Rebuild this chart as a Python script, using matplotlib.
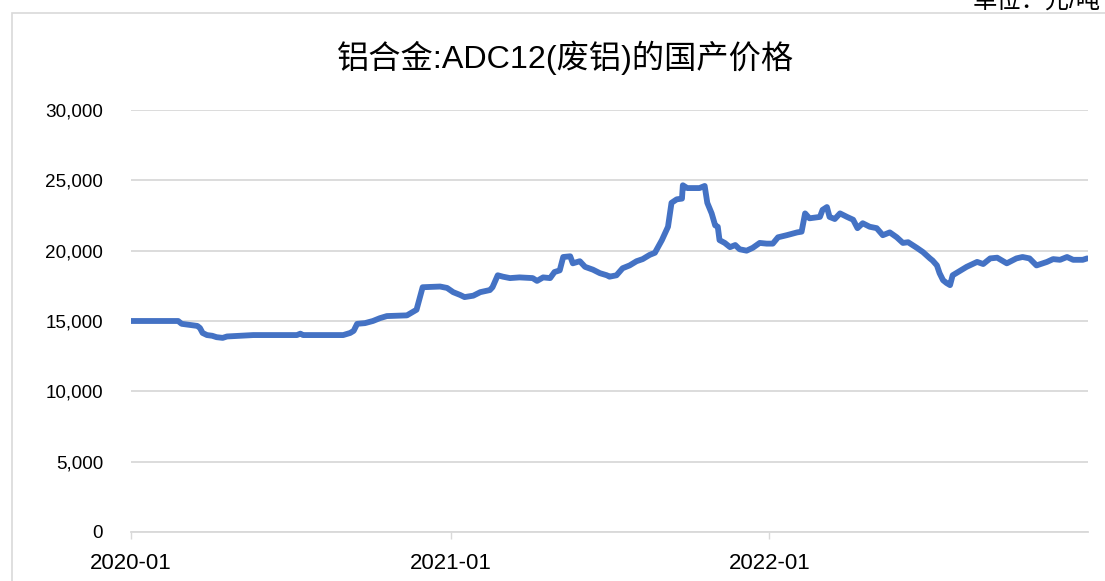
import matplotlib
matplotlib.use("Agg")
import matplotlib.pyplot as plt
import matplotlib.dates as mdates
import matplotlib.patches as patches
import pandas as pd

plt.rcParams['font.family'] = ['Liberation Sans', 'Noto Sans CJK SC', 'DejaVu Sans']

# price (yuan/ton)
dates = [
    "2020-01-01", "2020-02-24", "2020-02-28", "2020-03-17", "2020-03-20", "2020-03-23",
    "2020-03-28", "2020-04-03", "2020-04-08", "2020-04-15", "2020-04-20", "2020-05-05",
    "2020-05-20", "2020-07-09", "2020-07-13", "2020-07-16", "2020-08-31", "2020-09-08",
    "2020-09-12", "2020-09-16", "2020-09-25", "2020-10-04", "2020-10-12", "2020-10-20",
    "2020-11-12", "2020-11-19", "2020-11-23", "2020-11-30", "2020-12-20", "2020-12-28",
    "2021-01-04", "2021-01-12", "2021-01-17", "2021-01-27", "2021-02-04", "2021-02-15",
    "2021-02-18", "2021-02-24", "2021-03-02", "2021-03-10", "2021-03-21", "2021-04-05",
    "2021-04-10", "2021-04-17", "2021-04-25", "2021-04-30", "2021-05-06", "2021-05-10",
    "2021-05-18", "2021-05-21", "2021-05-29", "2021-06-04", "2021-06-13", "2021-06-21",
    "2021-06-29", "2021-07-02", "2021-07-10", "2021-07-17", "2021-07-25", "2021-08-02",
    "2021-08-09", "2021-08-17", "2021-08-23", "2021-08-31", "2021-09-07", "2021-09-11",
    "2021-09-17", "2021-09-23", "2021-09-24", "2021-09-29", "2021-10-13", "2021-10-19",
    "2021-10-22", "2021-10-27", "2021-10-31", "2021-11-03", "2021-11-05", "2021-11-11",
    "2021-11-17", "2021-11-23", "2021-11-28", "2021-12-06", "2021-12-13", "2021-12-21",
    "2021-12-29", "2022-01-05", "2022-01-11", "2022-01-21", "2022-02-02", "2022-02-07",
    "2022-02-11", "2022-02-16", "2022-02-28", "2022-03-03", "2022-03-08", "2022-03-11",
    "2022-03-17", "2022-03-23", "2022-03-31", "2022-04-07", "2022-04-12", "2022-04-18",
    "2022-04-26", "2022-05-04", "2022-05-11", "2022-05-19", "2022-05-27", "2022-06-03",
    "2022-06-09", "2022-06-19", "2022-06-26", "2022-07-04", "2022-07-07", "2022-07-12",
    "2022-07-15", "2022-07-19", "2022-07-23", "2022-07-27", "2022-07-30", "2022-08-07",
    "2022-08-15", "2022-08-27", "2022-09-03", "2022-09-11", "2022-09-19", "2022-09-30",
    "2022-10-11", "2022-10-18", "2022-10-26", "2022-11-03", "2022-11-15", "2022-11-22",
    "2022-11-30", "2022-12-08", "2022-12-15", "2022-12-26", "2022-12-31",
]
prices = [
    15000, 15000, 14800, 14650, 14500, 14150,
    14000, 13950, 13850, 13800, 13900, 13950,
    14000, 14000, 14100, 14000, 14000, 14150,
    14300, 14800, 14850, 15000, 15200, 15350,
    15400, 15650, 15800, 17400, 17450, 17350,
    17050, 16850, 16700, 16800, 17050, 17200,
    17400, 18250, 18150, 18050, 18100, 18050,
    17850, 18100, 18050, 18480, 18600, 19550,
    19600, 19100, 19250, 18850, 18650, 18400,
    18250, 18150, 18250, 18750, 18950, 19250,
    19400, 19700, 19850, 20750, 21700, 23400,
    23650, 23700, 24650, 24450, 24450, 24600,
    23400, 22650, 21800, 21700, 20750, 20550,
    20250, 20400, 20100, 20000, 20200, 20550,
    20500, 20500, 20950, 21100, 21300, 21350,
    22650, 22300, 22400, 22900, 23100, 22400,
    22250, 22650, 22400, 22200, 21600, 21950,
    21700, 21600, 21100, 21300, 20950, 20550,
    20600, 20200, 19900, 19450, 19300, 18950,
    18400, 17900, 17700, 17550, 18250, 18550,
    18850, 19200, 19050, 19450, 19500, 19100,
    19450, 19550, 19450, 18950, 19200, 19400,
    19350, 19550, 19350, 19350, 19450,
]
yticks = [0, 5000, 10000, 15000, 20000, 25000, 30000]
xticks = ["2020-01-01", "2021-01-01", "2022-01-01"]

title = "铝合金:ADC12(废铝)的国产价格"
unit = "单位：元/吨"

fig = plt.figure(figsize=(11.05, 5.81), dpi=100)
ax = fig.add_axes([131 / 1105, 1 - 532 / 581, (1088 - 131) / 1105, (532 - 110) / 581])

x = pd.to_datetime(dates)
ax.plot(x, prices, color="#4472C4", lw=4.2, solid_joinstyle="round", solid_capstyle="round")

ax.set_xlim(pd.Timestamp("2020-01-01"), pd.Timestamp("2023-01-01"))
ax.set_ylim(0, 30000)
ax.set_yticks(yticks)
ax.set_yticklabels([f"{v:,}" for v in yticks])
ax.set_xticks(pd.to_datetime(xticks))
ax.xaxis.set_major_formatter(mdates.DateFormatter("%Y-%m"))

ax.grid(axis="y", color="#d9d9d9", lw=1.3)
ax.set_axisbelow(True)
for s in ["top", "right", "left"]:
    ax.spines[s].set_visible(False)
ax.spines["bottom"].set_color("#d9d9d9")
ax.spines["bottom"].set_linewidth(1.3)
ax.tick_params(axis="y", length=0, pad=20, labelsize=13.6, labelcolor="#000000")
ax.tick_params(axis="x", length=5, width=1, color="#d9d9d9", pad=10, labelsize=16)

fig.text(565 / 1105, 1 - 58 / 581, title, ha="center", va="center", fontsize=23.2)
# unit label sits partly outside the top edge, as in the original
fig.text(973 / 1105, 1 - 8 / 581, unit, ha="left", va="baseline", fontsize=17.5)

# outer chart frame
frame = patches.Rectangle((12 / 1105, -0.1), 1.2, 1.1 - 13 / 581, transform=fig.transFigure,
                          fill=False, edgecolor="#d9d9d9", lw=1.2)
fig.patches.append(frame)

fig.savefig("out.png", dpi=100)
